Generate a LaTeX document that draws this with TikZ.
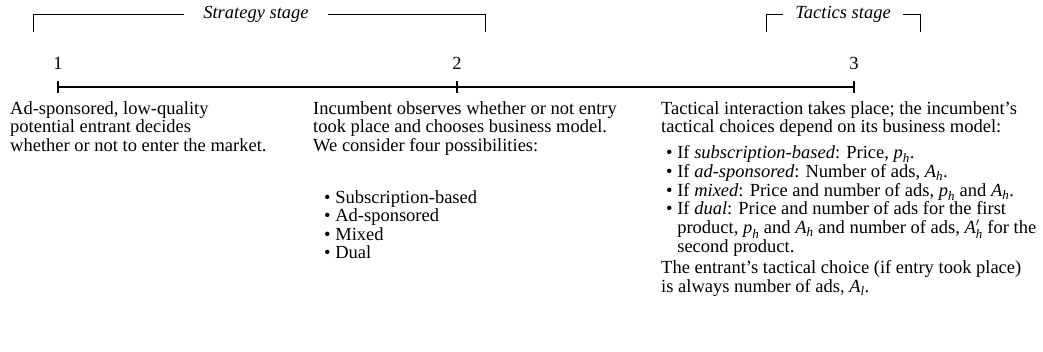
\documentclass[tikz,border=0pt]{standalone}
\usepackage{amsmath}
\usepackage{fontspec}
\setmainfont{Liberation Serif}
\usetikzlibrary{calc}

\newcommand{\mvar}[2]{$\textit{#1}_{\textit{#2}}$}

\begin{document}
\begin{tikzpicture}[
        x=1pt, y=-1pt,
        stage-label/.style={
            font=\fontsize{18.5}{18.5}\selectfont\itshape,
            inner ysep=0pt,
        },
        event-text/.style={
            font=\fontsize{18.5}{18.5}\selectfont,
            align=left,
            anchor=north west,
            inner sep=0pt,
        },
    ]
    \useasboundingbox (0, 0) rectangle (1043, 351);

    \foreach \x/\n in {58/1, 457/2, 854/3}
    {
        \coordinate (tick-\n) at (\x, 87);
        \node[font=\fontsize{18.5}{18.5}\selectfont] (number-\n) at (\x, 63) {\n};
        \draw[line width=1.3pt] ($(tick-\n)+(0, -6)$) -- ($(tick-\n)+(0, 6)$);
    }
    \draw[line width=1.3pt] (tick-1) -- (tick-3);

    % stage brackets
    \node[stage-label, inner xsep=19pt] (strategy-label) at (256, 14) {Strategy stage};
    \coordinate (strategy-left) at (33, 32);
    \coordinate (strategy-right) at (485, 32);
    \draw[line width=0.8pt] (strategy-left) |- (strategy-label.west);
    \draw[line width=0.8pt] (strategy-right) |- (strategy-label.east);

    \node[stage-label, inner xsep=12pt] (tactics-label) at (843, 14) {Tactics stage};
    \coordinate (tactics-left) at (766, 32);
    \coordinate (tactics-right) at (920, 32);
    \draw[line width=0.8pt] (tactics-left) |- (tactics-label.west);
    \draw[line width=0.8pt] (tactics-right) |- (tactics-label.east);

    % what happens at each date
    \node[event-text] (event-1) at (10, 101) {Ad-sponsored, low-quality\\potential entrant decides\\whether or not to enter the market.};

    \node[event-text] (event-2) at (313, 101) {Incumbent observes whether or not entry\\took place and chooses business model.\\We consider four possibilities:};
    \node[event-text] (options-2) at (324, 190) {\textbullet\ Subscription-based\\\textbullet\ Ad-sponsored\\\textbullet\ Mixed\\\textbullet\ Dual};

    \node[event-text] (event-3) at (661, 101) {Tactical interaction takes place; the incumbent's\\tactical choices depend on its business model:};
    \node[event-text, font=\fontsize{18.5}{18.9}\selectfont] (choices-3) at (666, 145) {\textbullet\ If \textit{subscription-based}: Price, \mvar{p}{h}.\\
        \textbullet\ If \textit{ad-sponsored}: Number of ads, \mvar{A}{h}.\\
        \textbullet\ If \textit{mixed}: Price and number of ads, \mvar{p}{h} and \mvar{A}{h}.\\
        \textbullet\ If \textit{dual}: Price and number of ads for the first\\
        \hphantom{\textbullet\ }product, \mvar{p}{h} and \mvar{A}{h} and number of ads, $\textit{A}'_{\textit{h}}$ for the\\
        \hphantom{\textbullet\ }second product.};
    \node[event-text, font=\fontsize{18.5}{19}\selectfont] (entrant-3) at (661, 260) {The entrant's tactical choice (if entry took place)\\is always number of ads, \mvar{A}{l}.};
\end{tikzpicture}
\end{document}
